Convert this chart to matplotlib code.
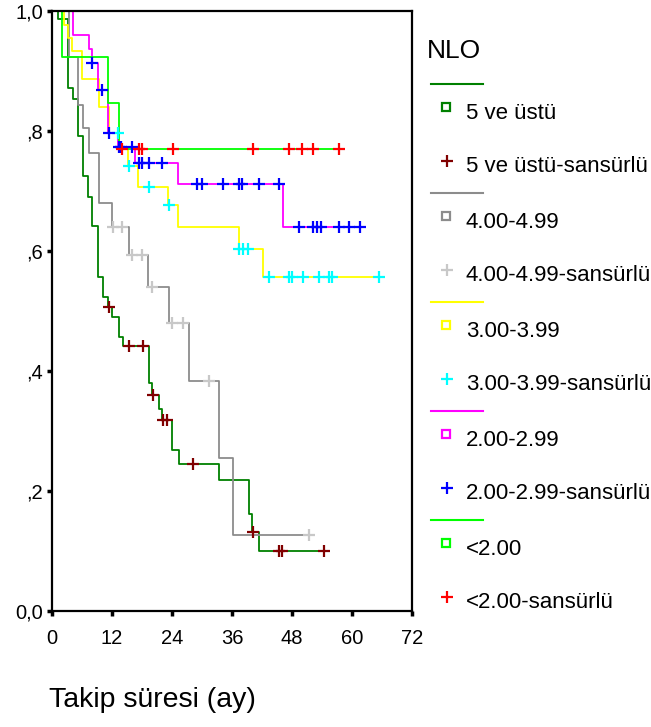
import numpy as np
import matplotlib; matplotlib.use("Agg")
import matplotlib.pyplot as plt
from matplotlib.lines import Line2D

plt.rcParams["font.family"] = ["Liberation Sans", "DejaVu Sans"]

# NLO groups: event times (ay), survival after each event, censor times
grp_names = ["5 ve üstü", "4.00-4.99", "3.00-3.99", "2.00-2.99", "<2.00"]
line_cols = ["#008000", "#8c8c8c", "#ffff00", "#ff00ff", "#00ff00"]
cens_cols = ["#800000", "#c8c8c8", "#00ffff", "#0000ff", "#ff0000"]

t_5 = [1.2, 3.1, 4.1, 5.1, 6.1, 7.2, 8.0, 9.2, 10.1, 11.2, 12.0, 13.3, 14.1,
       19.3, 19.9, 21.3, 22.0, 23.9, 25.3, 33.3, 39.3, 40.0, 41.3]
s_5 = [0.987, 0.871, 0.853, 0.791, 0.725, 0.690, 0.641, 0.557, 0.523, 0.507, 0.490, 0.457, 0.441,
       0.380, 0.360, 0.337, 0.318, 0.268, 0.244, 0.218, 0.161, 0.132, 0.100]
c_5 = [11.4, 15.3, 18.1, 20.1, 22.1, 23.0, 28.1, 40.2, 45.4, 45.9, 54.3]

t_4 = [3.3, 5.1, 6.1, 7.3, 9.3, 12.0, 15.3, 19.2, 23.3, 27.3, 33.3, 36.1]
s_4 = [0.923, 0.843, 0.805, 0.763, 0.680, 0.640, 0.593, 0.540, 0.480, 0.383, 0.254, 0.127]
c_4 = [12.2, 13.9, 16.0, 18.0, 19.9, 23.9, 26.2, 31.3, 51.3]

t_3 = [2.3, 3.2, 4.0, 6.0, 9.3, 11.3, 13.4, 15.2, 17.1, 23.2, 25.2, 37.3, 42.1]
s_3 = [0.977, 0.955, 0.933, 0.886, 0.840, 0.797, 0.773, 0.742, 0.707, 0.677, 0.640, 0.603, 0.557]
c_3 = [13.2, 13.7, 15.3, 19.3, 23.3, 37.4, 38.2, 39.1, 43.3, 47.3, 47.9, 50.1, 53.3, 55.3, 55.9, 65.4]

t_2 = [4.1, 7.4, 7.9, 9.2, 11.2, 13.2, 16.6, 25.2, 46.1]
s_2 = [0.960, 0.936, 0.913, 0.868, 0.796, 0.773, 0.747, 0.711, 0.640]
c_2 = [8.0, 10.0, 11.3, 13.4, 13.8, 15.9, 17.3, 17.9, 19.3, 21.9, 28.9, 29.9, 34.1, 37.3, 37.9,
       41.4, 45.3, 49.3, 52.1, 52.9, 53.7, 57.3, 59.3, 61.5]

t_1 = [2.0, 11.2, 13.3]
s_1 = [0.923, 0.846, 0.769]
c_1 = [13.9, 17.3, 17.9, 24.1, 40.1, 47.3, 49.9, 52.1, 57.3]

groups = [(t_5, s_5, c_5), (t_4, s_4, c_4), (t_3, s_3, c_3), (t_2, s_2, c_2), (t_1, s_1, c_1)]
xticks = [0, 12, 24, 36, 48, 60, 72]
yticks = [0.0, 0.2, 0.4, 0.6, 0.8, 1.0]
ylabels = ["0,0", ",2", ",4", ",6", ",8", "1,0"]

W, H = 651, 727
fig = plt.figure(figsize=(W/100, H/100), dpi=100)
ax = fig.add_axes([52/W, 1-610.7/H, 360/W, 600/H])

for (t, s, c), lc, cc in zip(groups, line_cols, cens_cols):
    t = np.asarray(t); s = np.asarray(s); c = np.asarray(c)
    tend = max(t.max(), c.max())
    tx = np.r_[0, t, tend]; sy = np.r_[1, s, s[-1]]
    ax.step(tx, sy, where="post", color=lc, lw=1.3, zorder=2)
    # survival level at each censor time
    cs = np.r_[1, s][np.searchsorted(t, c, side="right")]
    ax.plot(c, cs, ls="none", marker="+", ms=9, mew=1.6, color=cc, zorder=3)

ax.set_xlim(0, 72); ax.set_ylim(0, 1)
ax.set_xticks(xticks); ax.set_xticklabels([str(v) for v in xticks], fontsize=14.5)
ax.set_yticks(yticks); ax.set_yticklabels(ylabels, fontsize=14.5)
ax.tick_params(direction="out", length=3.5, width=2.5, pad=10, axis="x")
ax.tick_params(direction="out", length=3.5, width=2.5, pad=3, axis="y")
for sp in ax.spines.values():
    sp.set_linewidth(1.6)

fig.text(49/W, 1-700/H, "Takip süresi (ay)", fontsize=20.5, ha="left", va="center")

# legend: group line, square entry, censored entry
fig.text(427/W, 1-50.7/H, "NLO", fontsize=19, ha="left", va="center")
for i, (nm, lc, cc) in enumerate(zip(grp_names, line_cols, cens_cols)):
    L = 84.3 + 109*i
    fig.add_artist(Line2D([431/W, 483/W], [1-L/H, 1-L/H], color=lc, lw=1.5))
    fig.add_artist(Line2D([446/W], [1-(L+23)/H], ls="none", marker="s", ms=5.5, mfc="none",
                          mec=lc, mew=1.6))
    fig.text(465.7/W, 1-(L+29)/H, nm, fontsize=16, ha="left", va="center")
    fig.add_artist(Line2D([446.7/W], [1-(L+77)/H], ls="none", marker="+", ms=9, mew=1.6, color=cc))
    fig.text(465.7/W, 1-(L+82)/H, nm+"-sansürlü", fontsize=16, ha="left", va="center")

fig.savefig("out.png", dpi=100)
